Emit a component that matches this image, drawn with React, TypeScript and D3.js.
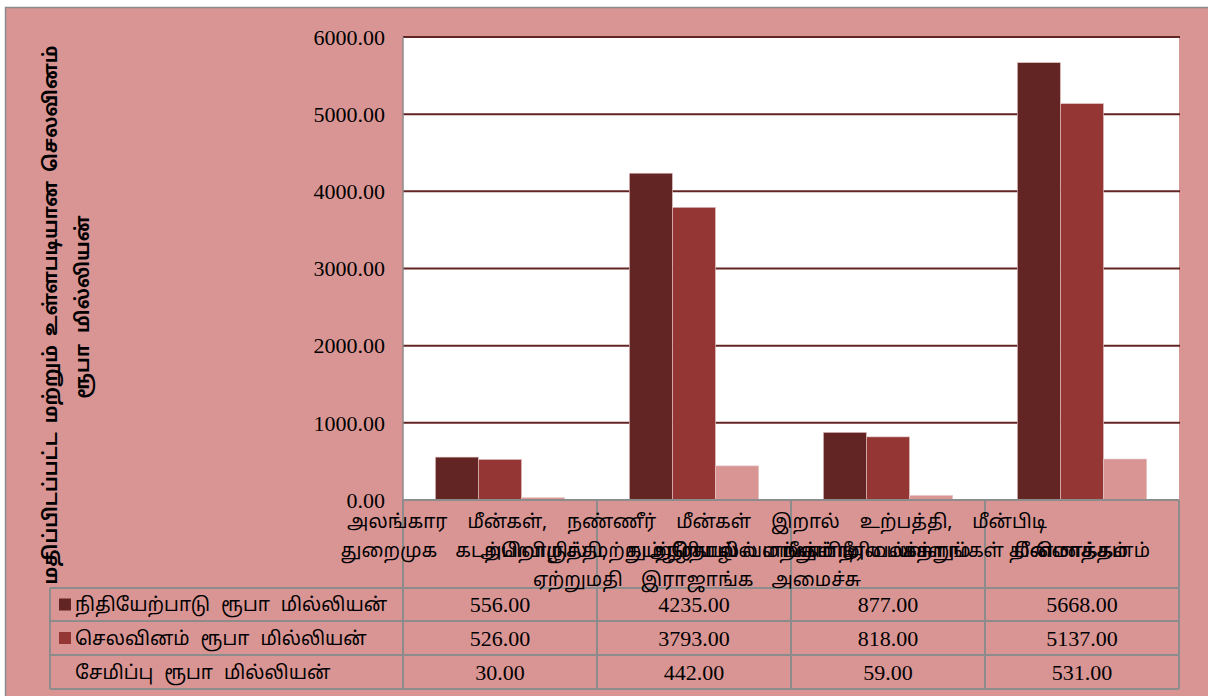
import * as d3 from "d3";

const categories = [
  "அலங்கார மீன்கள், நண்ணீர் மீன்கள் இறால் உற்பத்தி, மீன்பிடி துறைமுக அபிவிருத்தி, ஆழ்கடல் மீன்பிடி மற்றும் மீன் ஏற்றுமதி இராஜாங்க அமைச்சு",
  "கடற்றொழில் மற்றும் நீரியல் வளங்கள் அமைச்சு",
  "கடற்றொழில் மற்றும் நீரியல்வளங்கள் திணைக்களம்",
  "மொத்தம்",
];
// the first label wraps into three lines in the original
const firstLabelLines = [
  "அலங்கார மீன்கள், நண்ணீர் மீன்கள் இறால் உற்பத்தி, மீன்பிடி",
  "துறைமுக அபிவிருத்தி, ஆழ்கடல் மீன்பிடி மற்றும் மீன்",
  "ஏற்றுமதி இராஜாங்க அமைச்சு",
];

const seriesNames = [
  "நிதியேற்பாடு ரூபா மில்லியன்",
  "செலவினம் ரூபா மில்லியன்",
  "சேமிப்பு ரூபா மில்லியன்",
];
const allocation = [556, 4235, 877, 5668];
const expenditure = [526, 3793, 818, 5137];
const savings = [30, 442, 59, 531];
const yTicks = [0, 1000, 2000, 3000, 4000, 5000, 6000];

const seriesValues = [allocation, expenditure, savings];
const seriesColors = ["#632523", "#943634", "#d99594"];

const bg = "#d99594";
const gridColor = "#632523";
const tableLine = "#8c8c8c";
const serif = "'Liberation Serif', 'Times New Roman', serif";
const tamil = "'Noto Sans Tamil', 'Lohit Tamil', 'Noto Serif Tamil', sans-serif";

export default function App() {
  const width = 1208;
  const height = 696;
  const plot = { left: 403, right: 1179, top: 37, bottom: 500 };
  const tableLeft = 50;
  const rowLines = [588, 621, 655, 689];

  const x = d3
    .scaleBand<string>()
    .domain(categories)
    .range([plot.left, plot.right]);

  const xInner = d3
    .scaleBand<number>()
    .domain(d3.range(seriesNames.length))
    .range([0, x.bandwidth()])
    .paddingInner(0)
    .paddingOuter(0.75);

  const y = d3
    .scaleLinear()
    .domain([0, 6000])
    .range([plot.bottom, plot.top]);

  const colEdges = categories.map((c) => x(c) as number).concat(plot.right);
  const fmt = d3.format(".2f");

  const titleCenterY = 315;
  // word spacing of the three wrapped lines of the first label
  const firstLabelSpacing = [15, 38, 13];

  return (
    <svg
      width={width}
      height={height}
      style={{ position: "absolute", left: 0, top: 0, display: "block" }}
    >
      <rect x={0} y={0} width={width} height={height} fill="#ffffff" />
      <rect
        x={5.5}
        y={7.5}
        width={width}
        height={height}
        fill={bg}
        stroke="#8c8c8c"
        strokeWidth={1.5}
      />

      {/* plot area */}
      <rect
        x={plot.left}
        y={plot.top}
        width={plot.right - plot.left}
        height={plot.bottom - plot.top}
        fill="#ffffff"
      />
      {yTicks.slice(1).map((t) => (
        <line
          key={t}
          x1={plot.left}
          x2={plot.right + 1}
          y1={y(t)}
          y2={y(t)}
          stroke={gridColor}
          strokeWidth={2}
        />
      ))}
      <line
        x1={plot.left}
        x2={plot.left}
        y1={plot.top}
        y2={plot.bottom}
        stroke={tableLine}
        strokeWidth={1.5}
      />

      {/* bars */}
      {categories.map((c, ci) => (
        <g key={c} transform={`translate(${x(c)},0)`}>
          {seriesValues.map((vals, si) => (
            <rect
              key={si}
              x={xInner(si)}
              y={y(vals[ci])}
              width={xInner.bandwidth()}
              height={y(0) - y(vals[ci])}
              fill={seriesColors[si]}
              stroke="#e6c9c8"
              strokeWidth={0.6}
            />
          ))}
        </g>
      ))}

      {/* y tick labels */}
      {yTicks.map((t) => (
        <text
          key={t}
          x={385}
          y={y(t)}
          dy="0.35em"
          textAnchor="end"
          fontFamily={serif}
          fontSize={22}
          fill="#000"
        >
          {fmt(t)}
        </text>
      ))}

      {/* y axis title */}
      <g transform={`translate(50,${titleCenterY}) rotate(-90)`}>
        <text
          x={0}
          y={0}
          dy="0.35em"
          textAnchor="middle"
          fontFamily={tamil}
          fontWeight="bold"
          fontSize={19}
          wordSpacing={4}
          fill="#000"
        >
          மதிப்பிடப்பட்ட மற்றும் உள்ளபடியான செலவினம்
        </text>
      </g>
      <g transform={`translate(82,${titleCenterY - 8}) rotate(-90)`}>
        <text
          x={0}
          y={0}
          dy="0.35em"
          textAnchor="middle"
          fontFamily={tamil}
          fontWeight="bold"
          fontSize={19}
          wordSpacing={6}
          fill="#000"
        >
          ரூபா மில்லியன்
        </text>
      </g>

      {/* data table grid */}
      <line
        x1={plot.left}
        x2={plot.right}
        y1={plot.bottom}
        y2={plot.bottom}
        stroke={tableLine}
        strokeWidth={2}
      />
      {rowLines.map((ry) => (
        <line
          key={ry}
          x1={tableLeft}
          x2={plot.right}
          y1={ry}
          y2={ry}
          stroke={tableLine}
          strokeWidth={2}
        />
      ))}
      {colEdges.map((cx, i) => (
        <line
          key={i}
          x1={cx}
          x2={cx}
          y1={plot.bottom}
          y2={rowLines[rowLines.length - 1]}
          stroke={tableLine}
          strokeWidth={2}
        />
      ))}
      <line
        x1={tableLeft}
        x2={tableLeft}
        y1={rowLines[0]}
        y2={rowLines[rowLines.length - 1]}
        stroke={tableLine}
        strokeWidth={2}
      />

      {/* category labels (they overlap in the original) */}
      {firstLabelLines.map((line, li) => (
        <text
          key={li}
          x={697}
          y={521 + li * 29}
          dy="0.35em"
          textAnchor="middle"
          fontFamily={tamil}
          fontSize={19}
          wordSpacing={firstLabelSpacing[li]}
          fill="#000"
        >
          {line}
        </text>
      ))}
      {categories.slice(1).map((c) => (
        <text
          key={c}
          x={(x(c) as number) + x.bandwidth() / 2}
          y={550}
          dy="0.35em"
          textAnchor="middle"
          fontFamily={tamil}
          fontSize={19}
          fill="#000"
        >
          {c}
        </text>
      ))}

      {/* series rows */}
      {seriesNames.map((name, si) => {
        const cy = (rowLines[si] + rowLines[si + 1]) / 2;
        return (
          <g key={name}>
            <rect
              x={59}
              y={cy - 6}
              width={12}
              height={12}
              fill={seriesColors[si]}
            />
            <text
              x={75}
              y={cy}
              dy="0.35em"
              fontFamily={tamil}
              fontSize={19}
              wordSpacing={6}
              fill="#000"
            >
              {name}
            </text>
            {categories.map((c, ci) => (
              <text
                key={c}
                x={(x(c) as number) + x.bandwidth() / 2}
                y={cy}
                dy="0.35em"
                textAnchor="middle"
                fontFamily={serif}
                fontSize={22}
                fill="#000"
              >
                {fmt(seriesValues[si][ci])}
              </text>
            ))}
          </g>
        );
      })}
    </svg>
  );
}
